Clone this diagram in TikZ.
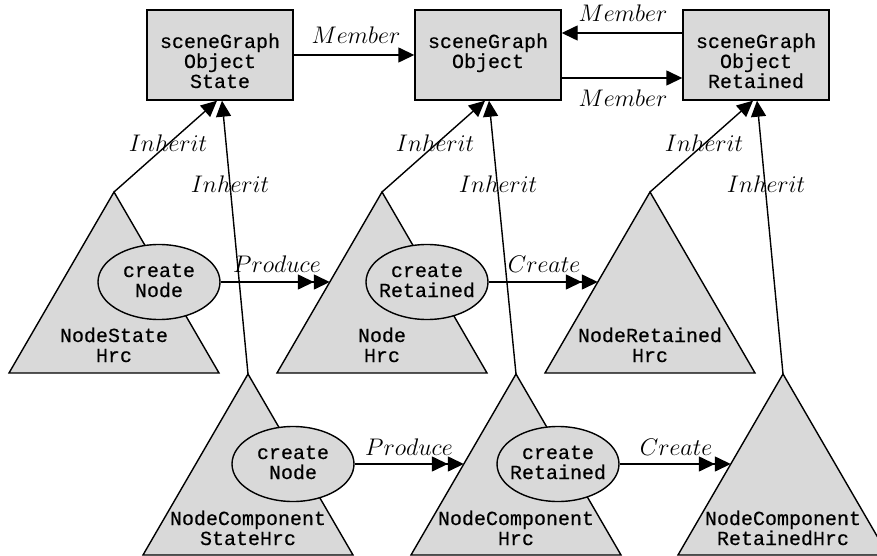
\RequirePackage{fix-cm}
\documentclass[tikz,border=0pt]{standalone}
\usepackage{fontspec}
\newfontfamily\codefont[FakeBold=0.4]{Liberation Mono}
\usetikzlibrary{arrows.meta,shapes.geometric,calc}
\DeclareFontShape{OML}{cmm}{m}{it}{<->cmmi12}{}
\definecolor{shade}{gray}{0.85}
% fixed line box: 15pt above, 5pt below the baseline
\newcommand\lnstrut{\rule[-5pt]{0pt}{20pt}}
\newcommand\codesize{\codefont\fontsize{20}{20}\selectfont\lineskiplimit-20pt\relax}

\begin{document}
\begin{tikzpicture}[x=1pt,y=-1pt,line width=1.4pt,
  codetext/.style={font=\codesize,align=center,inner sep=0pt},
  objbox/.style={draw,fill=shade,minimum width=146pt,minimum height=90pt,inner sep=0pt},
  method/.style={draw,fill=shade,ellipse,minimum width=122pt,minimum height=75pt,inner sep=0pt},
  tri/.style={draw,fill=shade,line join=miter},
  rel/.style={font=\fontsize{24}{28}\selectfont,inner sep=0pt,anchor=base},
  onetip/.style={-{Triangle[length=16pt,width=15pt]}},
  twotip/.style={-{Triangle[length=16pt,width=15pt]Triangle[length=16pt,width=15pt]}},
]
\path[use as bounding box,fill=white] (0,0) rectangle (877,556);
\clip (0,0) rectangle (877,556);

% object classes
\node[objbox] (b1) at (220,55) {};
\node[objbox] (b2) at (488,55) {};
\node[objbox] (b3) at (756,55) {};
\node[codetext] (b1t) at (220,63) {\lnstrut sceneGraph\\\lnstrut Object\\\lnstrut State};
\node[codetext] (b2t) at (488,53) {\lnstrut sceneGraph\\\lnstrut Object};
\node[codetext] (b3t) at (756,63) {\lnstrut sceneGraph\\\lnstrut Object\\\lnstrut Retained};

% hierarchies (triangles)
\coordinate (a1) at (114,192);
\coordinate (a2) at (382,192);
\coordinate (a3) at (650,192);
\coordinate (a4) at (248,374);
\coordinate (a5) at (516,374);
\coordinate (a6) at (783,374);
\foreach \a in {a1,a2,a3,a4,a5,a6}
  \draw[tri] (\a) -- ++(-105,181) -- ++(210,0) -- cycle;

\node[codetext] (t1t) at (114,347) {\lnstrut NodeState\\\lnstrut Hrc};
\node[codetext] (t2t) at (382,347) {\lnstrut Node\\\lnstrut Hrc};
\node[codetext] (t3t) at (650,347) {\lnstrut NodeRetained\\\lnstrut Hrc};
\node[codetext] (t4t) at (248,530) {\lnstrut NodeComponent\\\lnstrut StateHrc};
\node[codetext] (t5t) at (516,530) {\lnstrut NodeComponent\\\lnstrut Hrc};
\node[codetext] (t6t) at (783,530) {\lnstrut NodeComponent\\\lnstrut RetainedHrc};

% methods
\node[method] (e1) at (159,282) {};
\node[method] (e2) at (427,282) {};
\node[method] (e3) at (293,464) {};
\node[method] (e4) at (558,464) {};
\node[codetext] (e1t) at (e1) {\lnstrut create\\\lnstrut Node};
\node[codetext] (e2t) at (e2) {\lnstrut create\\\lnstrut Retained};
\node[codetext] (e3t) at (e3) {\lnstrut create\\\lnstrut Node};
\node[codetext] (e4t) at (e4) {\lnstrut create\\\lnstrut Retained};

% points where the method arrows meet the left side of a triangle
\coordinate (p2) at ($(a2)+(-52.2,90)$);
\coordinate (p3) at ($(a3)+(-52.2,90)$);
\coordinate (p5) at ($(a5)+(-52.2,90)$);
\coordinate (p6) at ($(a6)+(-52.2,90)$);

% member relations
\draw[onetip] (b1) -- (b2);
\draw[onetip] ([yshift=22pt]b3.west) -- ([yshift=22pt]b2.east);
\draw[onetip] ([yshift=-23pt]b2.east) -- ([yshift=-23pt]b3.west);
\node[rel] (m1) at (356,44) {$Member$};
\node[rel] (m2) at (623,22) {$Member$};
\node[rel] (m3) at (623,107) {$Member$};

% inheritance
\draw[onetip] (a1) -- ([xshift=-3pt]b1.south);
\draw[onetip] (a4) -- ([xshift=2pt]b1.south);
\draw[onetip] (a2) -- ([xshift=-3pt]b2.south);
\draw[onetip] (a5) -- ([xshift=1pt]b2.south);
\draw[onetip] (a3) -- ([xshift=-3pt]b3.south);
\draw[onetip] (a6) -- ([xshift=1pt]b3.south);
\node[rel] (i1) at (168,152) {$Inherit$};
\node[rel] (i2) at (230,193) {$Inherit$};
\node[rel] (i3) at (435,152) {$Inherit$};
\node[rel] (i4) at (498,193) {$Inherit$};
\node[rel] (i5) at (704,152) {$Inherit$};
\node[rel] (i6) at (766,193) {$Inherit$};

% produce / create
\draw[twotip] (e1) -- (e1 -| p2);
\draw[twotip] (e2) -- (e2 -| p3);
\draw[twotip] (e3) -- (e3 -| p5);
\draw[twotip] (e4) -- (e4 -| p6);
\node[rel] (r1) at (277,272) {$Produce$};
\node[rel] (r2) at (544,272) {$Create$};
\node[rel] (r3) at (409,455) {$Produce$};
\node[rel] (r4) at (676,455) {$Create$};
\end{tikzpicture}
\end{document}
